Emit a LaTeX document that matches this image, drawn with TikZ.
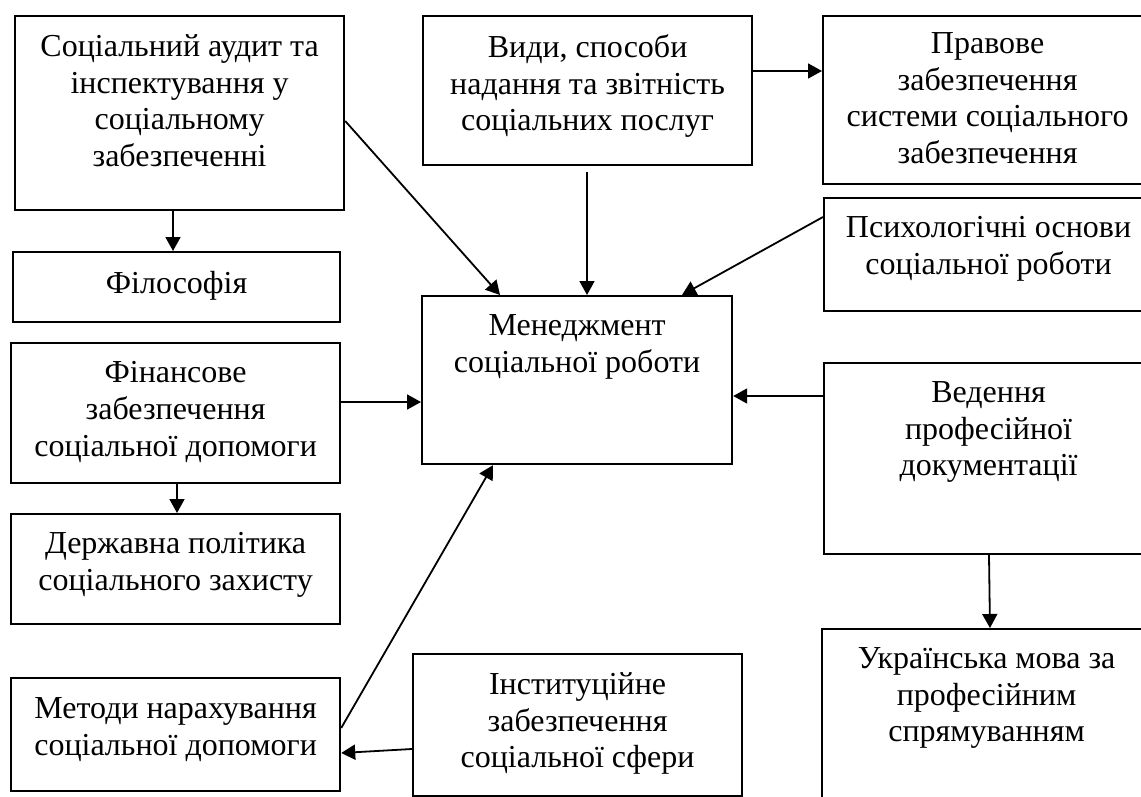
\documentclass[tikz,border=0pt]{standalone}
\usepackage{fontspec}
\setmainfont{Liberation Serif}
\usetikzlibrary{arrows.meta,calc}
\begin{document}
\begin{tikzpicture}[x=0.5pt,y=-0.5pt,
  box/.style={draw,line width=1.1pt,rectangle,inner sep=0pt,anchor=north west,minimum width=164.5pt},
  txt/.style={anchor=north,inner sep=0pt,align=center,font=\fontsize{16}{18.4}\selectfont},
  arr/.style={line width=0.9pt,-{Triangle[length=7pt,width=7.5pt]}}]
\useasboundingbox (0,0) rectangle (1141,797);
\clip (0,0) rectangle (1141,797);
% boxes
\node[box,minimum height=97pt] (A) at (14,15) {};
\node[box,minimum width=163.5pt,minimum height=35pt] (B) at (12,251) {};
\node[box,minimum height=70pt] (C) at (10,342) {};
\node[box,minimum height=55pt] (D) at (10,513) {};
\node[box,minimum height=56.5pt] (E) at (10,677) {};
\node[box,minimum height=71pt] (F) at (412,653) {};
\node[box,minimum height=74.5pt] (G) at (422,15) {};
\node[box,minimum width=155pt,minimum height=84pt] (H) at (421,295) {};
\node[box,minimum height=84pt] (I) at (822,15) {};
\node[box,minimum height=56.5pt] (J) at (823,197) {};
\node[box,minimum height=95.5pt] (K) at (823,362) {};
\node[box,minimum height=100pt] (L) at (821,628) {};
% texts
\node[txt] (At) at ($(A.north)+(0,19)$) {Соціальний аудит та\\інспектування у\\соціальному\\забезпеченні};
\node[txt] (Bt) at ($(B.north)+(0,20)$) {Філософія};
\node[txt] (Ct) at ($(C.north)+(0,19)$) {Фінансове\\забезпечення\\соціальної допомоги};
\node[txt] (Dt) at ($(D.north)+(0,19)$) {Державна політика\\соціального захисту};
\node[txt] (Et) at ($(E.north)+(0,20)$) {Методи нарахування\\соціальної допомоги};
\node[txt] (Ft) at ($(F.north)+(0,19)$) {Інституційне\\забезпечення\\соціальної сфери};
\node[txt] (Gt) at ($(G.north)+(0,19)$) {Види, способи\\надання та звітність\\соціальних послуг};
\node[txt] (Ht) at ($(H.north)+(0,19)$) {Менеджмент\\соціальної роботи};
\node[txt] (It) at ($(I.north)+(0,17)$) {Правове\\забезпечення\\системи соціального\\забезпечення};
\node[txt] (Jt) at ($(J.north)+(0,19)$) {Психологічні основи\\соціальної роботи};
\node[txt] (Kt) at ($(K.north)+(0,19)$) {Ведення\\професійної\\документації};
\node[txt] (Lt) at ($(L.north)+(0,19)$) {Українська мова за\\професійним\\спрямуванням};
% connectors
\draw[arr] (173,0 |- A.south) -- (173,0 |- B.north);
\draw[arr] (177,0 |- C.south) -- (177,0 |- D.north);
\draw[arr] (A.east |- 0,121) -- (500,0 |- H.north);
\draw[arr] ($(587,0 |- G.south)+(0,6)$) -- (587,0 |- H.north);
\draw[arr] (J.west |- 0,217) -- (682,0 |- H.north);
\draw[arr] (C.east |- 0,402) -- (H.west |- 0,402);
\draw[arr] (K.west |- 0,396) -- (H.east |- 0,396);
\draw[arr] (989,0 |- K.south) -- (990,0 |- L.north);
\draw[arr] (E.east |- 0,728) -- (493,0 |- H.south);
\draw[arr] (F.west |- 0,749) -- (E.east |- 0,753);
\draw[arr] (G.east |- 0,71) -- (I.west |- 0,71);
\end{tikzpicture}
\end{document}
